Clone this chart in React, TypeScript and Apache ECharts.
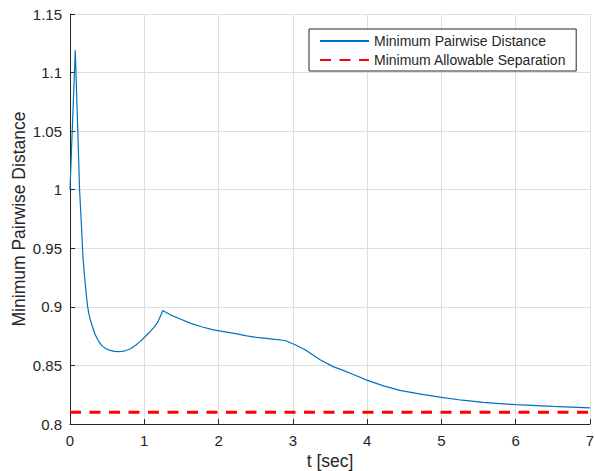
import React, { useEffect, useRef } from "react";
import * as echarts from "echarts";

const tValues = [0, 0.071, 0.1, 0.129, 0.152, 0.175, 0.2, 0.22, 0.237, 0.255, 0.273, 0.3, 0.34, 0.38, 0.43, 0.485, 0.542, 0.6, 0.667, 0.74, 0.81, 0.88, 0.946, 1.01, 1.08, 1.13, 1.18, 1.25, 1.349, 1.484, 1.618, 1.77, 1.93, 2.09, 2.246, 2.38, 2.515, 2.7, 2.896, 3.03, 3.165, 3.367, 3.54, 3.66, 3.83, 4.005, 4.22, 4.44, 4.72, 5.0, 5.28, 5.56, 6.0, 6.5, 7.0];
const minPairwise = [1.0, 1.119, 1.06, 1.0, 0.972, 0.942, 0.923, 0.91, 0.9003, 0.894, 0.889, 0.8835, 0.8762, 0.8712, 0.8667, 0.8642, 0.8628, 0.862, 0.8617, 0.8625, 0.864, 0.867, 0.8705, 0.8745, 0.879, 0.8825, 0.8867, 0.8969, 0.8932, 0.8896, 0.8861, 0.883, 0.8804, 0.8787, 0.877, 0.8752, 0.8739, 0.8727, 0.8713, 0.8676, 0.8634, 0.8548, 0.849, 0.8462, 0.8418, 0.8372, 0.8325, 0.8287, 0.8255, 0.8227, 0.8203, 0.8184, 0.8165, 0.815, 0.8137];
const sepT = [0, 7];
const sepValues = [0.81, 0.81];
const xTicks = [0, 1, 2, 3, 4, 5, 6, 7];
const yTicks = [0.8, 0.85, 0.9, 0.95, 1, 1.05, 1.1, 1.15];
const seriesNames = ["Minimum Pairwise Distance", "Minimum Allowable Separation"];

const FONT = "'Liberation Sans', Arial, Helvetica, sans-serif";
const AXIS = "#262626";
const GRID = "#dedede";

export default function App() {
  const ref = useRef<HTMLDivElement>(null);
  useEffect(() => {
    if (!ref.current) return;
    const chart = echarts.init(ref.current, null, { renderer: "svg" });
    const axisCommon = {
      axisLine: { show: true, onZero: false, lineStyle: { color: AXIS, width: 1 } },
      axisTick: { show: true, inside: true, length: 5, lineStyle: { color: AXIS, width: 1 } },
      splitLine: { show: true, lineStyle: { color: GRID, width: 1 } },
      axisLabel: { color: AXIS, fontSize: 15, fontFamily: FONT },
      nameTextStyle: { color: AXIS, fontSize: 17.5, fontFamily: FONT },
      nameMoveOverlap: false,
    };
    chart.setOption({
      animation: false,
      backgroundColor: "#fff",
      grid: { left: 70, right: 5, top: 14, bottom: 47, containLabel: false, outerBoundsMode: "none" },
      xAxis: {
        type: "value",
        min: xTicks[0],
        max: xTicks[xTicks.length - 1],
        interval: xTicks[1] - xTicks[0],
        name: "t [sec]",
        nameLocation: "middle",
        nameGap: 28,
        ...axisCommon,
        axisLabel: { ...axisCommon.axisLabel, margin: 9 },
      },
      yAxis: {
        type: "value",
        min: yTicks[0],
        max: yTicks[yTicks.length - 1],
        interval: 0.05,
        name: "Minimum Pairwise Distance",
        nameLocation: "middle",
        nameGap: 42,
        ...axisCommon,
        axisLabel: {
          ...axisCommon.axisLabel,
          margin: 8,
          formatter: (v: number) => String(+v.toFixed(2)),
        },
      },
      legend: {
        orient: "vertical",
        left: 309,
        top: 29,
        padding: [5, 10, 4, 10],
        itemGap: 5,
        itemWidth: 49,
        itemHeight: 14,
        borderColor: AXIS,
        borderWidth: 1,
        borderRadius: 0,
        backgroundColor: "#fff",
        itemStyle: { opacity: 0 },
        textStyle: { fontSize: 14, color: AXIS, fontFamily: FONT },
        data: seriesNames,
      },
      series: [
        {
          name: seriesNames[0],
          type: "line",
          data: tValues.map((t, i) => [t, minPairwise[i]]),
          symbol: "none",
          lineStyle: { color: "#0072BD", width: 1.2 },
          itemStyle: { color: "#0072BD" },
          z: 3,
        },
        {
          name: seriesNames[1],
          type: "line",
          data: sepT.map((t, i) => [t, sepValues[i]]),
          symbol: "none",
          lineStyle: { color: "#FF0000", width: 3, type: [11, 8.5] },
          itemStyle: { color: "#FF0000" },
          z: 2,
        },
      ],
    });
    return () => chart.dispose();
  }, []);
  return (
    <div
      ref={ref}
      style={{ position: "fixed", left: 0, top: 0, width: 595, height: 471 }}
    />
  );
}
